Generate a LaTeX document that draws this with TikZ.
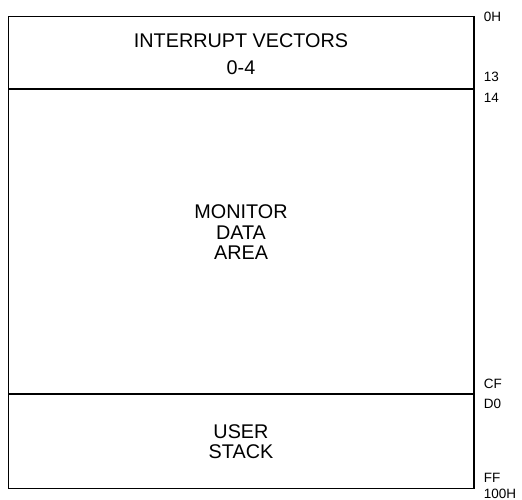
\documentclass[tikz,border=0pt]{standalone}
\usepackage{fontspec}
\setmainfont{Liberation Sans}
\begin{document}
\begin{tikzpicture}[x=1pt,y=-1pt,
  line width=1.6pt,
  big/.style={font=\fontsize{19.8}{20}\selectfont, inner sep=0pt, anchor=base},
  addr/.style={font=\fontsize{13.5}{14}\selectfont, inner sep=0pt, anchor=base west}]
\useasboundingbox (0,0) rectangle (522,500);
\coordinate (tl) at (8.5,16.5);
\coordinate (br) at (474,488.5);
\coordinate (d1l) at (8.5,89);
\coordinate (d1r) at (474,89);
\coordinate (d2l) at (8.5,394);
\coordinate (d2r) at (474,394);
\draw (tl) rectangle (br);
\draw (d1l) -- (d1r);
\draw (d2l) -- (d2r);
\node[big] (iv) at (241,48) {INTERRUPT VECTORS};
\node[big] (iv2) at (241,75) {0-4};
\node[big] (m1) at (241,218) {MONITOR};
\node[big] (m2) at (241,239) {DATA};
\node[big] (m3) at (241,259) {AREA};
\node[big] (u1) at (241,438) {USER};
\node[big] (u2) at (241,458) {STACK};
\node[addr] (a0) at (483,22) {0H};
\node[addr] (a1) at (483,82) {13};
\node[addr] (a2) at (483,103) {14};
\node[addr] (a3) at (483,388) {CF};
\node[addr] (a4) at (483,408) {D0};
\node[addr] (a5) at (483,482) {FF};
\node[addr] (a6) at (483,498.5) {100H};
\end{tikzpicture}
\end{document}
